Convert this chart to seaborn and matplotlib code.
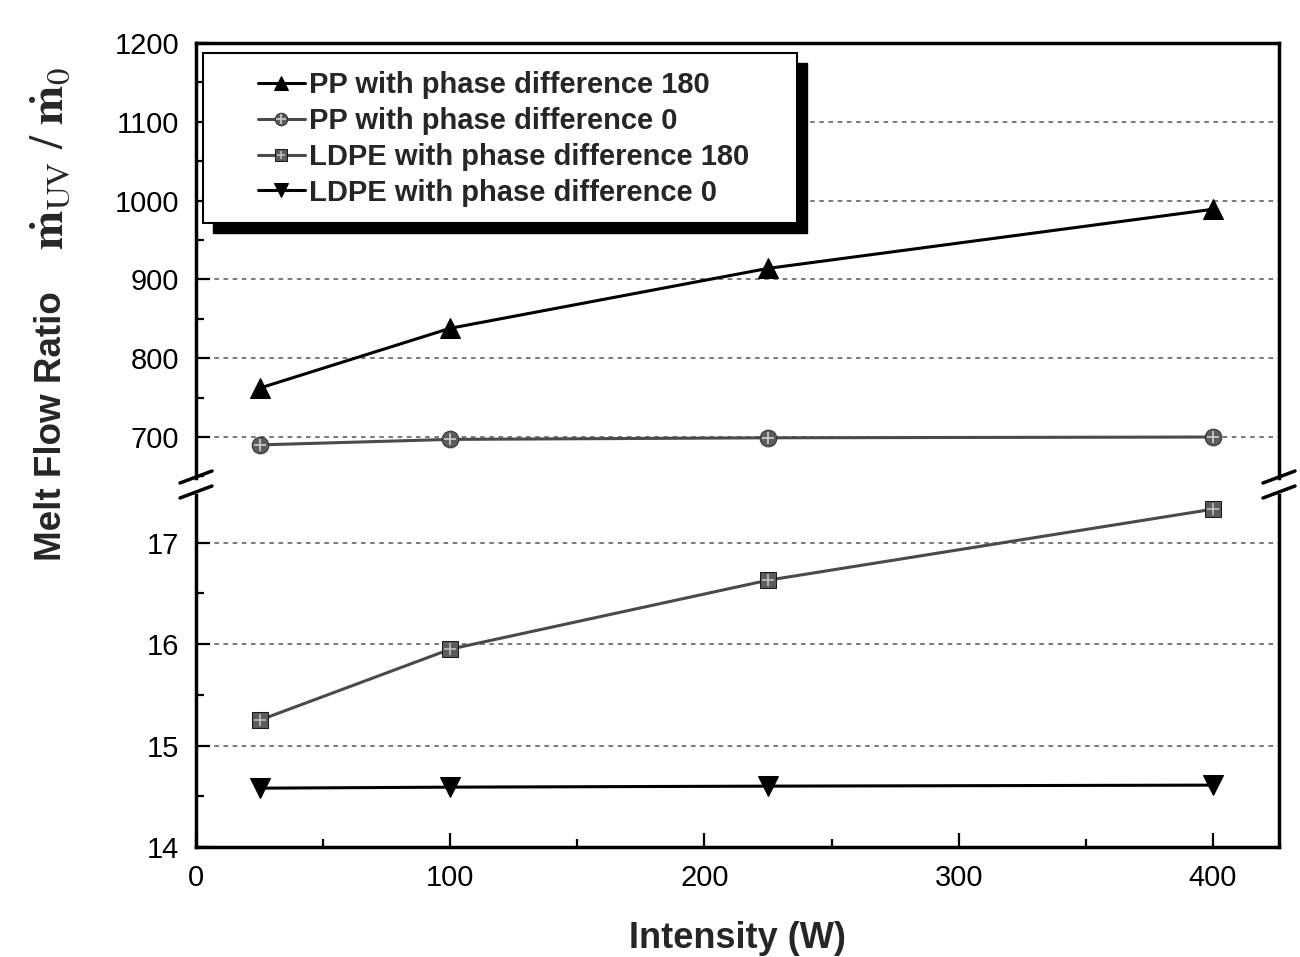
import matplotlib
matplotlib.use('Agg')
import matplotlib.pyplot as plt
import seaborn as sns
from matplotlib.lines import Line2D
from matplotlib.patches import Rectangle
from matplotlib.ticker import MultipleLocator, FixedLocator
from matplotlib.legend_handler import HandlerTuple

# ---------------- data ----------------
intensity = [25, 100, 225, 400]
pp_180 = [762, 838, 914, 989]
pp_0 = [690, 697, 699, 700]
ldpe_180 = [15.25, 15.95, 16.63, 17.33]
ldpe_0 = [14.58, 14.59, 14.60, 14.61]
series_labels = ["PP with phase difference 180",
                 "PP with phase difference 0",
                 "LDPE with phase difference 180",
                 "LDPE with phase difference 0"]
top_ticks = [700, 800, 900, 1000, 1100, 1200]
bottom_ticks = [14, 15, 16, 17]
x_ticks = [0, 100, 200, 300, 400]

# ---------------- style ----------------
sns.set_theme(style='ticks')
plt.rcParams['font.family'] = ['Liberation Sans', 'DejaVu Sans']
plt.rcParams['mathtext.fontset'] = 'stix'

W, H = 1300, 957
fig = plt.figure(figsize=(W / 100, H / 100), dpi=100)
fig.patch.set_facecolor('white')
L, R = 196, 1279


def ax_rect(top, bottom):
    return [L / W, 1 - bottom / H, (R - L) / W, (bottom - top) / H]


ax_top = fig.add_axes(ax_rect(43, 478))
ax_bot = fig.add_axes(ax_rect(495, 847))


def draw(ax, y, **kw):
    n0 = len(ax.lines)
    sns.lineplot(x=intensity, y=y, ax=ax, legend=False, errorbar=None, **kw)
    return ax.lines[n0]


h1 = draw(ax_top, pp_180, color='black', lw=2.2, marker='^', markersize=14,
          markerfacecolor='black', markeredgecolor='black')
h2a = draw(ax_top, pp_0, color='#4a4a4a', lw=2.2, marker='o', markersize=12,
           markerfacecolor='#5c5c5c', markeredgecolor='#333333')
h2b = draw(ax_top, pp_0, color='#4a4a4a', lw=0, marker='+', markersize=9,
           markeredgecolor='#c8c8c8', markeredgewidth=1.3)
h3a = draw(ax_bot, ldpe_180, color='#4a4a4a', lw=2.2, marker='s', markersize=11,
           markerfacecolor='#5c5c5c', markeredgecolor='#1a1a1a')
h3b = draw(ax_bot, ldpe_180, color='#4a4a4a', lw=0, marker='+', markersize=8,
           markeredgecolor='#c0c0c0', markeredgewidth=1.2)
h4 = draw(ax_bot, ldpe_0, color='black', lw=2.2, marker='v', markersize=14,
          markerfacecolor='black', markeredgecolor='black')

# ---------------- axes ----------------
for ax in (ax_top, ax_bot):
    ax.set_xlim(0, 426)
    ax.set_axisbelow(True)
    ax.yaxis.grid(True, which='major', linestyle=(0, (3, 3)), color='#555555', lw=1.1)
    ax.xaxis.grid(False)
    for s in ax.spines.values():
        s.set_color('black')
        s.set_linewidth(2.5)
    ax.tick_params(axis='both', which='both', direction='in', colors='black',
                   width=1.6, labelsize=21, right=False, top=False)
    ax.tick_params(axis='both', which='major', length=10, pad=12)
    ax.tick_params(axis='both', which='minor', length=5.5)
    ax.set_xlabel('')
    ax.set_ylabel('')

ax_top.set_ylim(648, 1200)
ax_top.yaxis.set_major_locator(FixedLocator(top_ticks))
ax_top.yaxis.set_minor_locator(MultipleLocator(50))
ax_top.spines['bottom'].set_visible(False)
ax_top.tick_params(axis='x', which='both', bottom=False, labelbottom=False)

ax_bot.set_ylim(14, 17.47)
ax_bot.yaxis.set_major_locator(FixedLocator(bottom_ticks))
ax_bot.yaxis.set_minor_locator(MultipleLocator(0.5))
ax_bot.xaxis.set_major_locator(FixedLocator(x_ticks))
ax_bot.xaxis.set_minor_locator(MultipleLocator(50))
ax_bot.spines['top'].set_visible(False)
ax_bot.set_yticklabels([str(t) for t in bottom_ticks])
ax_top.set_yticklabels([str(t) for t in top_ticks])
ax_bot.set_xticklabels([str(t) for t in x_ticks])

ax_bot.set_xlabel('Intensity (W)', fontsize=26, fontweight='bold', labelpad=21)

fig.text(52 / W, 1 - 426 / H, 'Melt Flow Ratio',
         rotation=90, ha='center', va='center', fontsize=26.5, fontweight='bold')
fig.text(52 / W, 1 - 158 / H,
         r'$\mathbf{\dot{m}}_{\mathrm{UV}}\ /\ \mathbf{\dot{m}}_{0}$',
         rotation=90, ha='center', va='center', fontsize=34)

# ---------------- legend with shadowed frame ----------------
axw, axh = R - L, 478 - 43
fx0, fx1, fy0, fy1 = 203, 797, 53, 223
shadow = Rectangle(((fx0 - L + 10) / axw, 1 - (fy1 - 43 + 10) / axh),
                   (fx1 - fx0) / axw, (fy1 - fy0) / axh,
                   transform=ax_top.transAxes, facecolor='black', edgecolor='black',
                   zorder=4, clip_on=False)
frame = Rectangle(((fx0 - L) / axw, 1 - (fy1 - 43) / axh),
                  (fx1 - fx0) / axw, (fy1 - fy0) / axh,
                  transform=ax_top.transAxes, facecolor='white', edgecolor='black',
                  lw=1.5, zorder=5, clip_on=False)
ax_top.add_patch(shadow)
ax_top.add_patch(frame)

leg = ax_top.legend([h1, (h2a, h2b), (h3a, h3b), h4], series_labels,
                    loc='upper left', bbox_to_anchor=((258 - L) / axw, 1 - (71 - 43) / axh),
                    frameon=False, prop={'weight': 'bold', 'size': 21},
                    handlelength=1.6, handletextpad=0.15, labelspacing=0.27,
                    borderpad=0, borderaxespad=0, markerscale=0.75,
                    handler_map={tuple: HandlerTuple(ndivide=1)})
leg.set_zorder(6)

# ---------------- axis break marks ----------------
for xc in (L, R):
    for yc in (477, 492):
        fig.add_artist(Line2D([(xc - 16) / W, (xc + 16) / W],
                              [1 - (yc + 6) / H, 1 - (yc - 6) / H],
                              transform=fig.transFigure, color='black', lw=2.5))

fig.savefig('out.png', dpi=100, facecolor='white')
